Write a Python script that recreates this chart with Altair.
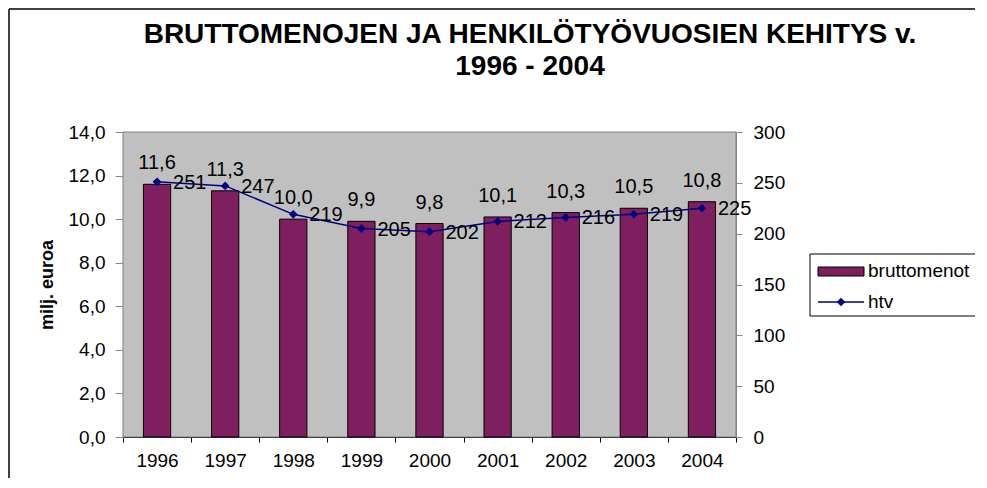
import altair as alt
import pandas as pd

# ---- data ----
years = ["1996", "1997", "1998", "1999", "2000", "2001", "2002", "2003", "2004"]
bruttomenot = [11.6, 11.3, 10.0, 9.9, 9.8, 10.1, 10.3, 10.5, 10.8]
htv = [251, 247, 219, 205, 202, 212, 216, 219, 225]
left_ticks = [0, 2, 4, 6, 8, 10, 12, 14]
right_ticks = [0, 50, 100, 150, 200, 250, 300]
title_lines = ["BRUTTOMENOJEN JA HENKILÖTYÖVUOSIEN KEHITYS v.", "1996 - 2004"]
y_title = "milj. euroa"
legend_labels = ["bruttomenot", "htv"]

df = pd.DataFrame({"vuosi": years, "bruttomenot": bruttomenot, "htv": htv})

FONT = "Liberation Sans"
BAR = "#7F1F5F"
LINE = "#000080"
W, H = 613, 305

x_enc = alt.X(
    "vuosi:O",
    title=None,
    scale=alt.Scale(paddingInner=0, paddingOuter=0),
    axis=alt.Axis(labelAngle=0, tickBand="extent", tickSize=5, labelPadding=9,
                  labelFontSize=19, domainColor="black", tickColor="black"),
)

base = alt.Chart(df)
left_scale = alt.Scale(domain=[0, 14], nice=False)
right_scale = alt.Scale(domain=[0, 300], nice=False)

y_left = alt.Y(
    "bruttomenot:Q", scale=left_scale,
    axis=alt.Axis(values=left_ticks, orient="left", grid=False,
                  labelExpr="replace(format(datum.value, '.1f'), '.', ',')",
                  title=y_title, titleFontSize=18, titleFontWeight="bold",
                  titleFont=FONT, titlePadding=12, titleColor="black",
                  tickSize=8, labelPadding=10, labelFontSize=19),
)
y_left_noaxis = alt.Y("bruttomenot:Q", scale=left_scale, axis=None)

y_right = alt.Y(
    "htv:Q", scale=right_scale,
    axis=alt.Axis(values=right_ticks, orient="right", grid=False, title=None,
                  tickSize=6, labelPadding=11, labelFontSize=19),
)
y_right_noaxis = alt.Y("htv:Q", scale=right_scale, axis=None)

# plot-area background (Excel grey)
deco = alt.Chart(alt.Data(values=[{"k": 0}]))
plot_bg = deco.mark_rect(fill="#C0C0C0", stroke="#808080", strokeWidth=1).encode(
    x=alt.value(0), x2=alt.value(W), y=alt.value(0), y2=alt.value(H))

bars = base.mark_bar(width=alt.RelativeBandSize(0.4), fill=BAR, stroke="black",
                     strokeWidth=1).encode(x=x_enc, y=y_left)

bar_labels = base.transform_calculate(
    lbl="replace(format(datum.bruttomenot, '.1f'), '.', ',')"
).mark_text(fontSize=20, font=FONT, color="black", baseline="alphabetic",
            align="center", dy=-15).encode(x=x_enc, y=y_left_noaxis, text="lbl:N")

line = base.mark_line(color=LINE, strokeWidth=1.5).encode(x=x_enc, y=y_right)
points = base.mark_point(shape="diamond", filled=True, size=75, color=LINE,
                         opacity=1).encode(x=x_enc, y=y_right_noaxis)
line_labels = base.mark_text(fontSize=20, font=FONT, color="black", align="left",
                             baseline="middle", dx=16, dy=1).encode(
    x=x_enc, y=y_right_noaxis, text="htv:Q")

# ---- decorations (frame, title, legend) ----
RIGHT = 852
frame_top = deco.mark_rule(color="black", strokeWidth=1.5).encode(
    x=alt.value(-114), x2=alt.value(RIGHT), y=alt.value(-123))
frame_left = deco.mark_rule(color="black", strokeWidth=1.5).encode(
    x=alt.value(-114), y=alt.value(-123), y2=alt.value(346))

title = deco.mark_text(text=title_lines, lineHeight=32, fontSize=28,
                       fontWeight="bold", font=FONT, align="center",
                       baseline="alphabetic", color="black").encode(
    x=alt.value(407), y=alt.value(-89))

leg_fill = deco.mark_rect(fill="white").encode(
    x=alt.value(687), x2=alt.value(RIGHT), y=alt.value(122), y2=alt.value(184))
leg_top = deco.mark_rule(color="black", strokeWidth=1).encode(
    x=alt.value(687), x2=alt.value(RIGHT), y=alt.value(122))
leg_bot = deco.mark_rule(color="black", strokeWidth=1).encode(
    x=alt.value(687), x2=alt.value(RIGHT), y=alt.value(184))
leg_left = deco.mark_rule(color="black", strokeWidth=1).encode(
    x=alt.value(687), y=alt.value(122), y2=alt.value(184))
leg_swatch = deco.mark_rect(fill=BAR, stroke="black", strokeWidth=1).encode(
    x=alt.value(695), x2=alt.value(741), y=alt.value(135), y2=alt.value(144))
leg_rule = deco.mark_rule(color=LINE, strokeWidth=1.5).encode(
    x=alt.value(695), x2=alt.value(741), y=alt.value(170))
leg_point = deco.mark_point(shape="diamond", filled=True, size=75, color=LINE,
                            opacity=1).encode(x=alt.value(718), y=alt.value(170))
leg_text1 = deco.mark_text(text=legend_labels[0], fontSize=19, font=FONT,
                           align="left", baseline="middle", color="black").encode(
    x=alt.value(745), y=alt.value(139))
leg_text2 = deco.mark_text(text=legend_labels[1], fontSize=19, font=FONT,
                           align="left", baseline="middle", color="black").encode(
    x=alt.value(745), y=alt.value(170))

chart = alt.layer(
    plot_bg, bars, bar_labels, line, points, line_labels,
    frame_top, frame_left, title,
    leg_fill, leg_top, leg_bot, leg_left, leg_swatch, leg_rule, leg_point,
    leg_text1, leg_text2,
).resolve_scale(y="independent").properties(
    width=W, height=H, padding=0
).configure_view(
    stroke="#808080", strokeWidth=1
).configure_axis(
    labelFont=FONT, labelColor="black", domainColor="black", tickColor="black",
    grid=False
).configure(background="white")

chart.save("out.html", embed_options={"renderer": "svg", "actions": False})
